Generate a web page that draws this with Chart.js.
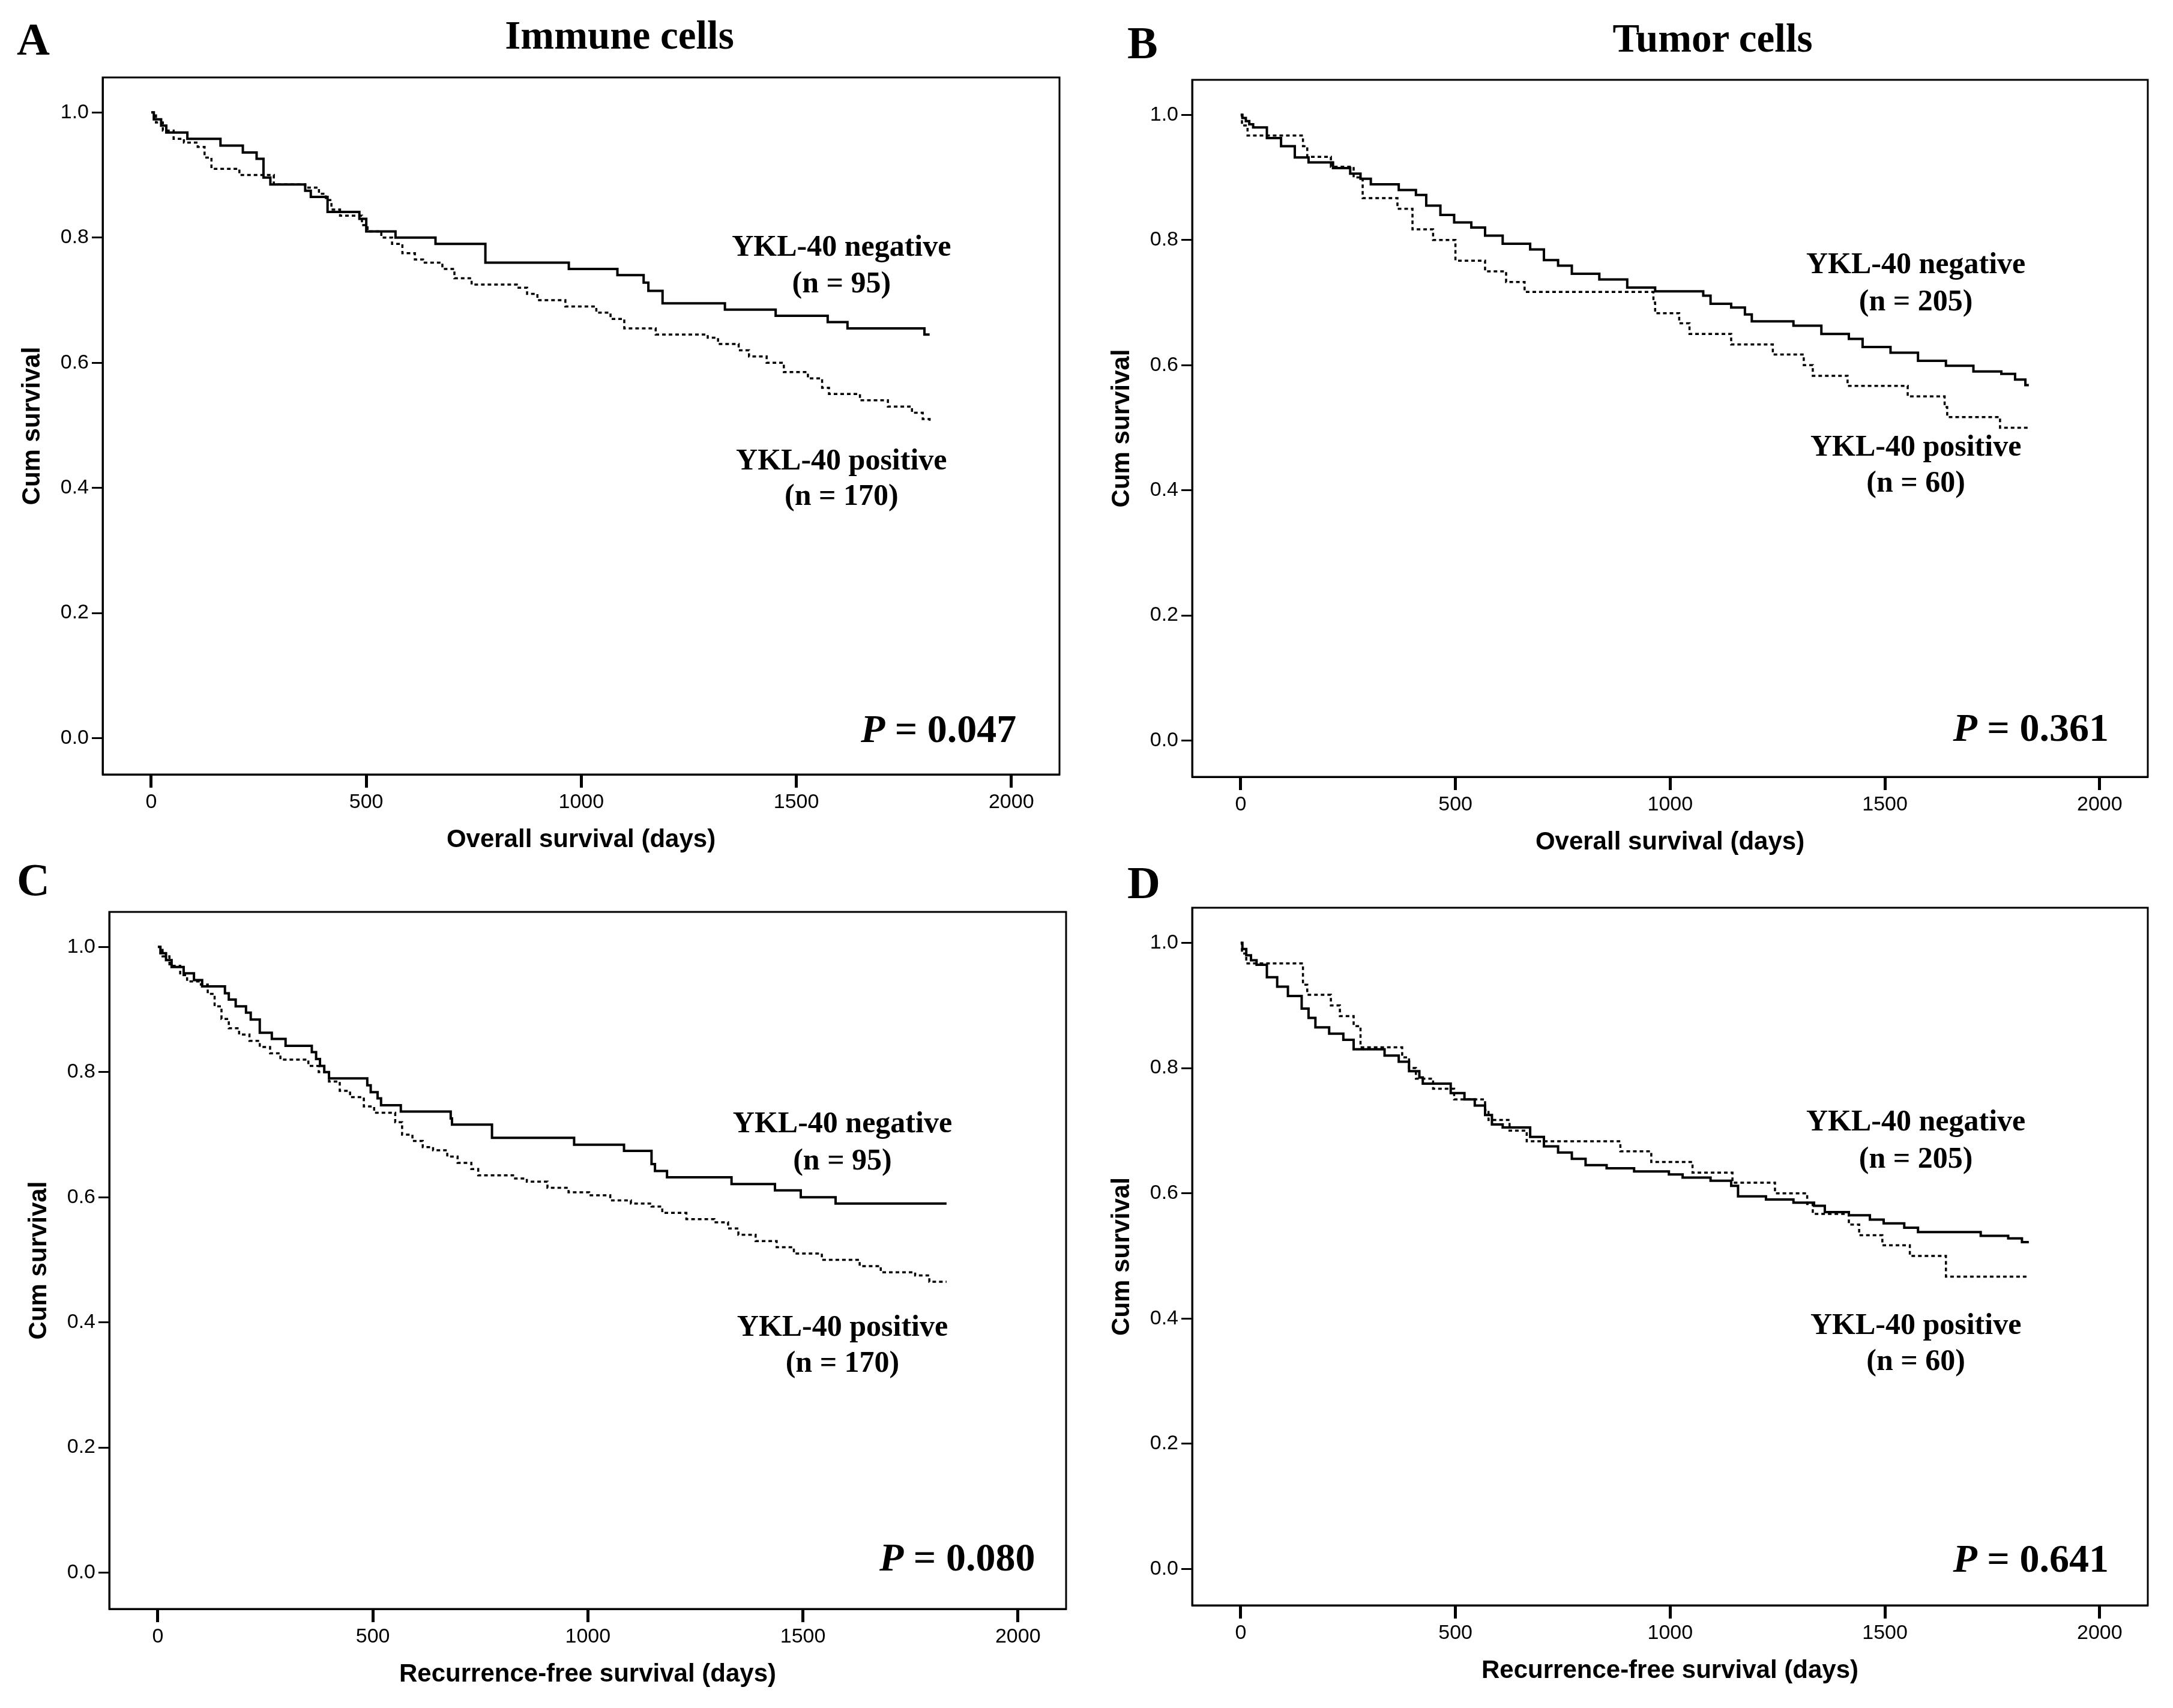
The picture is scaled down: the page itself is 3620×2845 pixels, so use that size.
<!DOCTYPE html>
<html>
<head>
<meta charset="utf-8">
<script src="https://cdn.jsdelivr.net/npm/chart.js@4.4.1/dist/chart.umd.min.js"></script>
<style>
  body { margin: 0; background: #fff; width: 3620px; height: 2845px; position: relative; overflow: hidden; }
  .panel { position: absolute; }
  .letter, .title { position: absolute; font-family: 'Liberation Serif', 'Times New Roman', serif; font-weight: bold; line-height: 1; color: #000; white-space: nowrap; }
  .letter { font-size: 76px; }
  .title { font-size: 67px; transform: translateX(-50%); }
</style>
</head>
<body>
<div class="letter" style="left:28px;top:27px">A</div>
<div class="letter" style="left:1878px;top:33px">B</div>
<div class="letter" style="left:28px;top:1427px">C</div>
<div class="letter" style="left:1878px;top:1432px">D</div>
<div class="title" style="left:1032px;top:25px">Immune cells</div>
<div class="title" style="left:2853px;top:30px">Tumor cells</div>

<div class="panel" id="pA"><canvas id="cA"></canvas></div>
<div class="panel" id="pB"><canvas id="cB"></canvas></div>
<div class="panel" id="pC"><canvas id="cC"></canvas></div>
<div class="panel" id="pD"><canvas id="cD"></canvas></div>

<script>
// axis ticks
const xTicks = [0, 500, 1000, 1500, 2000];
const yTicks = [0.0, 0.2, 0.4, 0.6, 0.8, 1.0];

// A: immune cells, overall survival
const aNegDays = [0, 6, 23, 35, 84, 161, 213, 245, 261, 277, 358, 371, 410, 484, 500, 568, 661, 777, 971, 1084, 1145, 1156, 1189, 1334, 1452, 1573, 1619, 1798, 1810];
const aNegSurv = [1.0, 0.989, 0.979, 0.968, 0.958, 0.947, 0.936, 0.926, 0.896, 0.885, 0.875, 0.865, 0.841, 0.83, 0.81, 0.80, 0.79, 0.76, 0.75, 0.74, 0.728, 0.715, 0.695, 0.685, 0.675, 0.665, 0.655, 0.645, 0.645];
const aPosDays = [0, 11, 27, 52, 76, 108, 124, 140, 205, 285, 358, 390, 406, 419, 439, 490, 503, 535, 560, 584, 613, 632, 677, 705, 745, 850, 874, 898, 963, 1035, 1068, 1100, 1173, 1294, 1318, 1366, 1390, 1431, 1471, 1527, 1560, 1576, 1648, 1713, 1769, 1794, 1810];
const aPosSurv = [1.0, 0.984, 0.971, 0.958, 0.952, 0.945, 0.928, 0.91, 0.90, 0.885, 0.88, 0.87, 0.86, 0.845, 0.835, 0.82, 0.81, 0.80, 0.79, 0.775, 0.765, 0.76, 0.75, 0.735, 0.725, 0.72, 0.71, 0.70, 0.69, 0.68, 0.67, 0.655, 0.645, 0.64, 0.63, 0.62, 0.61, 0.60, 0.585, 0.575, 0.56, 0.55, 0.54, 0.53, 0.52, 0.51, 0.505];

// B: tumor cells, overall survival
const bNegDays = [0, 4, 12, 20, 29, 61, 94, 126, 158, 215, 255, 279, 303, 368, 408, 432, 465, 497, 537, 569, 610, 674, 706, 739, 771, 835, 900, 965, 1077, 1094, 1142, 1174, 1190, 1287, 1352, 1416, 1448, 1513, 1577, 1642, 1706, 1771, 1803, 1827, 1835];
const bNegSurv = [1.0, 0.995, 0.99, 0.985, 0.98, 0.963, 0.95, 0.932, 0.924, 0.915, 0.906, 0.898, 0.889, 0.88, 0.872, 0.855, 0.84, 0.828, 0.82, 0.807, 0.794, 0.785, 0.768, 0.759, 0.746, 0.737, 0.724, 0.718, 0.711, 0.698, 0.692, 0.681, 0.67, 0.663, 0.65, 0.642, 0.629, 0.62, 0.607, 0.599, 0.59, 0.586, 0.577, 0.568, 0.568];
const bPosDays = [0, 3, 16, 145, 155, 210, 263, 284, 365, 400, 448, 500, 569, 618, 661, 961, 965, 1021, 1045, 1142, 1239, 1311, 1332, 1413, 1553, 1639, 1645, 1768, 1835];
const bPosSurv = [1.0, 0.983, 0.967, 0.95, 0.933, 0.917, 0.9, 0.867, 0.85, 0.817, 0.8, 0.767, 0.75, 0.733, 0.717, 0.7, 0.683, 0.667, 0.65, 0.633, 0.617, 0.6, 0.583, 0.567, 0.55, 0.533, 0.517, 0.5, 0.5];

// C: immune cells, recurrence-free survival
const cNegDays = [0, 6, 19, 32, 60, 84, 103, 156, 165, 181, 205, 216, 237, 265, 297, 358, 368, 377, 387, 398, 487, 495, 511, 519, 565, 681, 684, 777, 968, 1084, 1148, 1156, 1184, 1334, 1435, 1495, 1576, 1834];
const cNegSurv = [1.0, 0.99, 0.979, 0.968, 0.958, 0.947, 0.937, 0.926, 0.916, 0.905, 0.895, 0.884, 0.863, 0.853, 0.842, 0.832, 0.821, 0.81, 0.80, 0.79, 0.779, 0.768, 0.758, 0.747, 0.737, 0.726, 0.716, 0.695, 0.684, 0.674, 0.653, 0.642, 0.632, 0.621, 0.611, 0.60, 0.59, 0.59];
const cPosDays = [0, 11, 27, 52, 68, 100, 116, 132, 148, 165, 189, 213, 237, 261, 285, 350, 374, 398, 423, 447, 479, 503, 552, 568, 592, 616, 640, 673, 697, 729, 745, 826, 858, 906, 955, 1003, 1052, 1100, 1148, 1173, 1229, 1294, 1326, 1350, 1390, 1439, 1479, 1544, 1632, 1681, 1761, 1794, 1834];
const cPosSurv = [1.0, 0.985, 0.97, 0.955, 0.945, 0.94, 0.925, 0.905, 0.885, 0.87, 0.86, 0.85, 0.84, 0.83, 0.82, 0.81, 0.80, 0.785, 0.77, 0.76, 0.745, 0.735, 0.72, 0.70, 0.69, 0.68, 0.675, 0.665, 0.655, 0.645, 0.635, 0.63, 0.625, 0.615, 0.608, 0.603, 0.595, 0.59, 0.585, 0.575, 0.565, 0.56, 0.55, 0.54, 0.53, 0.52, 0.51, 0.50, 0.49, 0.48, 0.475, 0.465, 0.465];

// D: tumor cells, recurrence-free survival
const dNegDays = [0, 4, 13, 24, 37, 61, 85, 110, 142, 158, 174, 206, 239, 263, 335, 368, 392, 416, 424, 489, 521, 545, 569, 585, 610, 674, 706, 739, 771, 803, 852, 916, 997, 1029, 1094, 1142, 1158, 1223, 1287, 1335, 1360, 1416, 1465, 1497, 1545, 1577, 1723, 1787, 1819, 1835];
const dNegSurv = [1.0, 0.99, 0.98, 0.972, 0.965, 0.945, 0.93, 0.915, 0.895, 0.88, 0.865, 0.855, 0.845, 0.83, 0.82, 0.81, 0.795, 0.785, 0.775, 0.76, 0.75, 0.74, 0.725, 0.71, 0.705, 0.69, 0.675, 0.665, 0.655, 0.645, 0.64, 0.635, 0.63, 0.625, 0.62, 0.612, 0.595, 0.59, 0.585, 0.58, 0.57, 0.565, 0.558, 0.552, 0.545, 0.538, 0.532, 0.528, 0.522, 0.522];
const dPosDays = [0, 3, 13, 145, 155, 210, 231, 263, 279, 376, 392, 408, 448, 497, 569, 577, 626, 666, 884, 956, 1052, 1145, 1244, 1319, 1332, 1416, 1440, 1494, 1558, 1642, 1835];
const dPosSurv = [1.0, 0.983, 0.967, 0.933, 0.917, 0.9, 0.883, 0.867, 0.833, 0.817, 0.8, 0.783, 0.767, 0.75, 0.733, 0.717, 0.7, 0.683, 0.667, 0.65, 0.633, 0.617, 0.6, 0.583, 0.567, 0.55, 0.533, 0.517, 0.5, 0.467, 0.467];

const negN = [95, 205, 95, 205];
const posN = [170, 60, 170, 60];
const pValues = ['0.047', '0.361', '0.080', '0.641'];
const xTitles = ['Overall survival (days)', 'Overall survival (days)', 'Recurrence-free survival (days)', 'Recurrence-free survival (days)'];

const Y_AXIS_W = 142;
const X_AXIS_H = 135;
const PAD = 10;

// frame = plot box in page pixels; note anchors in data units
const panels = [
  { id: 'A', frame: [171, 129, 1765, 1290], neg: aNegDays, negS: aNegSurv, pos: aPosDays, posS: aPosSurv,
    noteX: 1605, negY: [0.783, 0.725], posY: [0.442, 0.385], pX: 2012, pY: 0.010 },
  { id: 'B', frame: [1986, 133, 3578, 1294], neg: bNegDays, negS: bNegSurv, pos: bPosDays, posS: bPosSurv,
    noteX: 1572, negY: [0.759, 0.700], posY: [0.468, 0.410], pX: 2021, pY: 0.016 },
  { id: 'C', frame: [182, 1519, 1776, 2680], neg: cNegDays, negS: cNegSurv, pos: cPosDays, posS: cPosSurv,
    noteX: 1592, negY: [0.716, 0.657], posY: [0.391, 0.333], pX: 2040, pY: 0.020 },
  { id: 'D', frame: [1986, 1512, 3578, 2674], neg: dNegDays, negS: dNegSurv, pos: dPosDays, posS: dPosSurv,
    noteX: 1572, negY: [0.713, 0.653], posY: [0.388, 0.330], pX: 2021, pY: 0.012 }
];

const serif = "'Liberation Serif', 'Times New Roman', serif";
const tickFont = { family: "'Liberation Sans Narrow', 'Arial Narrow', 'Liberation Sans', sans-serif", size: 34 };
const axisTitleFont = { family: "'Liberation Sans', Arial, sans-serif", size: 42, weight: 'bold' };

// box around the plot and the text notes inside it
const kmNotes = {
  id: 'kmNotes',
  afterDraw(chart, args, opts) {
    const { ctx, chartArea: a, scales } = chart;
    ctx.save();
    ctx.strokeStyle = '#000';
    ctx.lineWidth = 3;
    ctx.strokeRect(a.left, a.top, a.right - a.left, a.bottom - a.top);

    ctx.fillStyle = '#000';
    ctx.textBaseline = 'middle';
    ctx.textAlign = 'center';
    ctx.font = 'bold 50px ' + serif;
    const nx = scales.x.getPixelForValue(opts.noteX);
    ctx.fillText('YKL-40 negative', nx, scales.y.getPixelForValue(opts.negY[0]));
    ctx.fillText('(n = ' + opts.negN + ')', nx, scales.y.getPixelForValue(opts.negY[1]));
    ctx.fillText('YKL-40 positive', nx, scales.y.getPixelForValue(opts.posY[0]));
    ctx.fillText('(n = ' + opts.posN + ')', nx, scales.y.getPixelForValue(opts.posY[1]));

    // P value, right aligned
    const px = scales.x.getPixelForValue(opts.pX);
    const py = scales.y.getPixelForValue(opts.pY);
    ctx.textAlign = 'left';
    ctx.font = 'bold 66px ' + serif;
    const rest = ' = ' + opts.p;
    const wRest = ctx.measureText(rest).width;
    ctx.font = 'italic bold 66px ' + serif;
    const wP = ctx.measureText('P').width;
    ctx.fillText('P', px - wRest - wP, py);
    ctx.font = 'bold 66px ' + serif;
    ctx.fillText(rest, px - wRest, py);
    ctx.restore();
  }
};

function curve(days, surv) {
  return days.map((d, i) => ({ x: d, y: surv[i] }));
}

panels.forEach((p, i) => {
  const [L, T, R, B] = p.frame;
  const box = document.getElementById('p' + p.id);
  const left = L - Y_AXIS_W;
  const top = T - PAD;
  const w = R - left + PAD;
  const h = B - T + PAD + X_AXIS_H;
  box.style.left = left + 'px';
  box.style.top = top + 'px';
  box.style.width = w + 'px';
  box.style.height = h + 'px';

  new Chart(document.getElementById('c' + p.id), {
    type: 'line',
    data: {
      datasets: [
        {
          label: 'YKL-40 negative',
          data: curve(p.neg, p.negS),
          stepped: 'before',
          borderColor: '#000',
          borderWidth: 4,
          pointRadius: 0,
          fill: false
        },
        {
          label: 'YKL-40 positive',
          data: curve(p.pos, p.posS),
          stepped: 'before',
          borderColor: '#000',
          borderWidth: 3.5,
          borderDash: [6, 5],
          pointRadius: 0,
          fill: false
        }
      ]
    },
    options: {
      responsive: true,
      maintainAspectRatio: false,
      devicePixelRatio: 1,
      animation: false,
      layout: { padding: { top: PAD, right: PAD, left: 0, bottom: 0 } },
      plugins: {
        legend: { display: false },
        tooltip: { enabled: false },
        kmNotes: {
          noteX: p.noteX, negY: p.negY, posY: p.posY, pX: p.pX, pY: p.pY,
          negN: negN[i], posN: posN[i], p: pValues[i]
        }
      },
      scales: {
        x: {
          type: 'linear',
          min: -113,
          max: 2112,
          afterBuildTicks: axis => { axis.ticks = xTicks.map(v => ({ value: v })); },
          afterFit: axis => {
            axis.height = X_AXIS_H;
            axis.paddingLeft = 0;
            axis.paddingRight = 0;
          },
          ticks: { color: '#000', font: tickFont, padding: 4, maxRotation: 0, callback: v => String(v) },
          grid: { drawOnChartArea: false, drawTicks: true, tickLength: 22, tickWidth: 5, tickColor: '#000' },
          border: { display: true, color: '#000', width: 3 },
          title: { display: true, text: xTitles[i], color: '#000', font: axisTitleFont, padding: { top: 0, bottom: 0 } }
        },
        y: {
          type: 'linear',
          min: -0.058,
          max: 1.056,
          afterBuildTicks: axis => { axis.ticks = yTicks.map(v => ({ value: v })); },
          afterFit: axis => {
            axis.width = Y_AXIS_W;
            axis.paddingTop = 0;
            axis.paddingBottom = 0;
          },
          ticks: { color: '#000', font: tickFont, padding: 5, callback: v => v.toFixed(1) },
          grid: { drawOnChartArea: false, drawTicks: true, tickLength: 18, tickWidth: 3, tickColor: '#000' },
          border: { display: true, color: '#000', width: 3 },
          title: { display: true, text: 'Cum survival', color: '#000', font: axisTitleFont, padding: { top: 0, bottom: 0 } }
        }
      }
    },
    plugins: [kmNotes]
  });
});
</script>
</body>
</html>
